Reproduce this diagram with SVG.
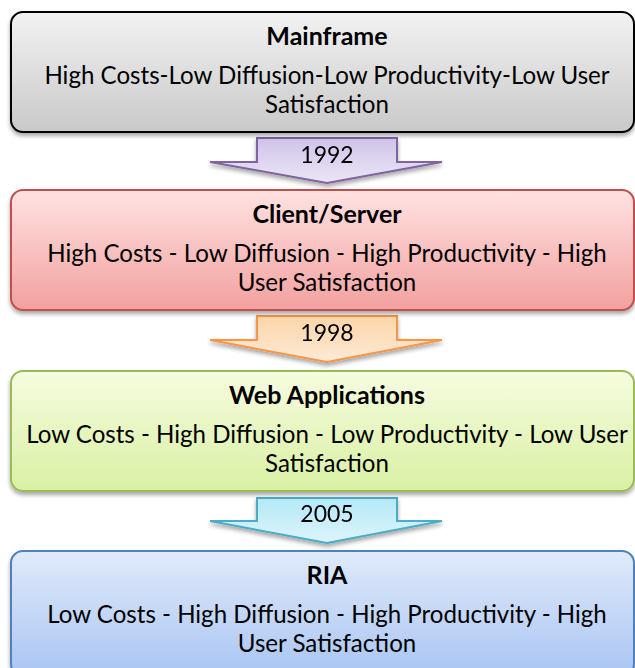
<svg xmlns="http://www.w3.org/2000/svg" width="635" height="668" viewBox="0 0 635 668">
<defs>
  <linearGradient id="gGray" x1="0" y1="0" x2="0" y2="1"><stop offset="0" stop-color="#f2f2f2"/><stop offset="1" stop-color="#c9c9c9"/></linearGradient>
  <linearGradient id="gRed" x1="0" y1="0" x2="0" y2="1"><stop offset="0" stop-color="#ffe2e2"/><stop offset="1" stop-color="#f2a19f"/></linearGradient>
  <linearGradient id="gGreen" x1="0" y1="0" x2="0" y2="1"><stop offset="0" stop-color="#f6fce0"/><stop offset="1" stop-color="#d9f0a3"/></linearGradient>
  <linearGradient id="gBlue" x1="0" y1="0" x2="0" y2="1"><stop offset="0" stop-color="#e0eafb"/><stop offset="1" stop-color="#a9c5f2"/></linearGradient>
  <linearGradient id="aPurple" x1="0" y1="0" x2="0" y2="1"><stop offset="0" stop-color="#cfc3ea"/><stop offset="1" stop-color="#ece6f6"/></linearGradient>
  <linearGradient id="aOrange" x1="0" y1="0" x2="0" y2="1"><stop offset="0" stop-color="#fcd5a9"/><stop offset="1" stop-color="#fdead6"/></linearGradient>
  <linearGradient id="aCyan" x1="0" y1="0" x2="0" y2="1"><stop offset="0" stop-color="#b3e8f6"/><stop offset="1" stop-color="#def5fb"/></linearGradient>
  <filter id="sh" x="-5%" y="-10%" width="110%" height="125%">
    <feGaussianBlur in="SourceAlpha" stdDeviation="2"/>
    <feOffset dx="0" dy="3" result="b"/>
    <feComponentTransfer><feFuncA type="linear" slope="0.35"/></feComponentTransfer>
    <feMerge><feMergeNode/><feMergeNode in="SourceGraphic"/></feMerge>
  </filter>
</defs>
<style>
  text { font-family: Lato, "Liberation Sans", sans-serif; fill: #000; text-anchor: middle; }
  .t { font-size: 25px; font-weight: bold; }
  .b { font-size: 24.1px; }
  .y { font-size: 23px; }
  .box { stroke-width: 2; }
  .arr { stroke-width: 2; stroke-linejoin: miter; }
</style>
<g id="connectors">
  <g id="arrow-1992" filter="url(#sh)">
    <path class="arr" d="M257,138 L397,138 L397,162 L442,162 L327,183 L210,162 L257,162 Z" fill="url(#aPurple)" stroke="#8064a2"/>
    <text class="y" x="327" y="163">1992</text>
  </g>
  <g id="arrow-1998" filter="url(#sh)">
    <path class="arr" d="M257,316 L397,316 L397,340 L442,340 L327,362 L210,340 L257,340 Z" fill="url(#aOrange)" stroke="#f79646"/>
    <text class="y" x="327" y="341">1998</text>
  </g>
  <g id="arrow-2005" filter="url(#sh)">
    <path class="arr" d="M257,498 L397,498 L397,521 L442,521 L327,543 L210,521 L257,521 Z" fill="url(#aCyan)" stroke="#4bacc6"/>
    <text class="y" x="327" y="522">2005</text>
  </g>
</g>
<g id="mainframe">
  <rect class="box" x="11" y="12" width="623" height="120" rx="12" fill="url(#gGray)" stroke="#000" filter="url(#sh)"/>
  <text class="t" x="327" y="45">Mainframe</text>
  <text class="b" x="327" y="84">High Costs-Low Diffusion-Low Productivity-Low User</text>
  <text class="b" x="327" y="113">Satisfaction</text>
</g>
<g id="client-server">
  <rect class="box" x="11" y="190" width="623" height="120" rx="12" fill="url(#gRed)" stroke="#c0504d" filter="url(#sh)"/>
  <text class="t" x="327" y="223">Client/Server</text>
  <text class="b" x="327" y="262">High Costs - Low Diffusion - High Productivity - High</text>
  <text class="b" x="327" y="291">User Satisfaction</text>
</g>
<g id="web-applications">
  <rect class="box" x="11" y="371" width="623" height="120" rx="12" fill="url(#gGreen)" stroke="#9bbb59" filter="url(#sh)"/>
  <text class="t" x="327" y="404">Web Applications</text>
  <text class="b" x="327" y="443">Low Costs - High Diffusion - Low Productivity - Low User</text>
  <text class="b" x="327" y="472">Satisfaction</text>
</g>
<g id="ria">
  <rect class="box" x="11" y="551" width="623" height="125" rx="12" fill="url(#gBlue)" stroke="#4f81bd" filter="url(#sh)"/>
  <text class="t" x="327" y="584">RIA</text>
  <text class="b" x="327" y="623">Low Costs - High Diffusion - High Productivity - High</text>
  <text class="b" x="327" y="652">User Satisfaction</text>
</g>
</svg>
